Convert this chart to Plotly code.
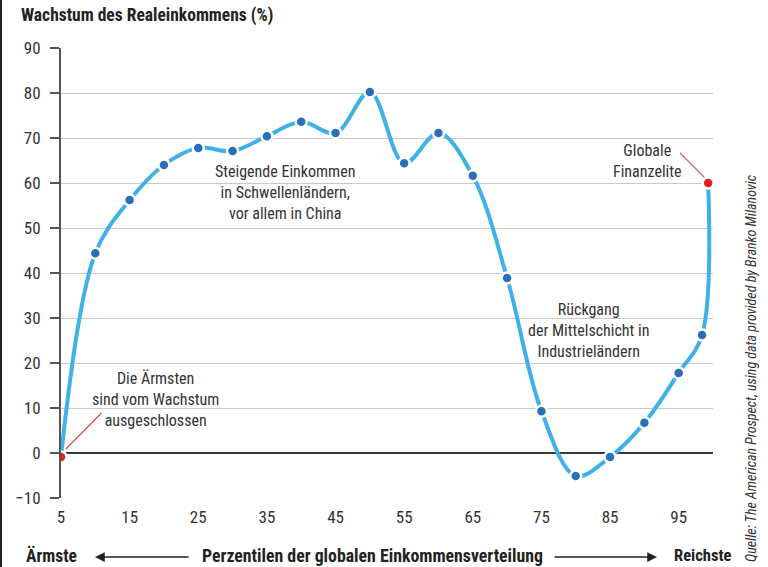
import plotly.graph_objects as go

percentiles = [5, 10, 15, 20, 25, 30, 35, 40, 45, 50, 55, 60, 65, 70, 75, 80, 85, 90, 95, 98.4, 99.3]
growth = [-0.9, 44.4, 56.2, 64.0, 67.8, 67.1, 70.4, 73.6, 71.1, 80.2, 64.4, 71.1, 61.6, 38.9, 9.3, -5.1, -0.9, 6.7, 17.8, 26.2, 60.0]
highlight = [True] + [False] * 19 + [True]
x_ticks = [5, 15, 25, 35, 45, 55, 65, 75, 85, 95]
y_ticks = [-10, 0, 10, 20, 30, 40, 50, 60, 70, 80, 90]

FONT = "Roboto Condensed, Roboto, Liberation Sans Narrow, sans-serif"
TXT = "#333333"
LINE_BLUE = "#3fb1e8"
DOT_BLUE = "#2a6fb8"
RED = "#e2231a"

marker_colors = [RED if h else DOT_BLUE for h in highlight]

fig = go.Figure()
fig.add_trace(go.Scatter(
    x=percentiles, y=growth, mode="lines+markers",
    line=dict(color=LINE_BLUE, width=4, shape="spline", smoothing=1.0),
    marker=dict(color=marker_colors, size=11, line=dict(color="white", width=2.5)),
    hoverinfo="x+y", showlegend=False,
))

W, H = 768, 567
ml, mr, mt, mb = 61, 55, 48, 69
pw, ph = W - ml - mr, H - mt - mb

def px(xp):
    return (xp - ml) / pw

def py(yp):
    return (H - mb - yp) / ph

annotations = [
    dict(text="<b>Wachstum des Realeinkommens (%)</b>", xref="paper", yref="paper",
         x=px(147), y=py(15), xanchor="center", yanchor="middle", showarrow=False,
         font=dict(size=17.5, color="#222", family=FONT)),
    dict(text="Steigende Einkommen<br>in Schwellenländern,<br>vor allem in China",
         x=37.6, y=57.8, xref="x", yref="y", showarrow=False, align="center",
         font=dict(size=16, color=TXT, family=FONT)),
    dict(text="Die Ärmsten<br>sind vom Wachstum<br>ausgeschlossen",
         x=18.7, y=12.0, xref="x", yref="y", showarrow=False, align="center",
         font=dict(size=16, color=TXT, family=FONT)),
    dict(text="Rückgang<br>der Mittelschicht in<br>Industrieländern",
         x=81.8, y=27.3, xref="x", yref="y", showarrow=False, align="center",
         font=dict(size=16, color=TXT, family=FONT)),
    dict(text="Globale<br>Finanzelite",
         x=90.4, y=64.8, xref="x", yref="y", showarrow=False, align="center",
         font=dict(size=16, color=TXT, family=FONT)),
    dict(text="<b>Ärmste</b>", xref="paper", yref="paper", x=px(51), y=py(555),
         xanchor="center", yanchor="middle", showarrow=False,
         font=dict(size=17.5, color="#222", family=FONT)),
    dict(text="<b>Perzentilen der globalen Einkommensverteilung</b>", xref="paper", yref="paper",
         x=px(372), y=py(555), xanchor="center", yanchor="middle", showarrow=False,
         font=dict(size=17.8, color="#222", family=FONT)),
    dict(text="<b>Reichste</b>", xref="paper", yref="paper", x=px(702), y=py(555),
         xanchor="center", yanchor="middle", showarrow=False,
         font=dict(size=16.5, color="#222", family=FONT)),
    dict(text="", xref="paper", yref="paper", x=px(95), y=py(557), ax=95, ay=0,
         showarrow=True, arrowhead=2, arrowsize=1.3, arrowwidth=1.5, arrowcolor="#222"),
    dict(text="", xref="paper", yref="paper", x=px(657), y=py(557), ax=-104, ay=0,
         showarrow=True, arrowhead=2, arrowsize=1.3, arrowwidth=1.5, arrowcolor="#222"),
    dict(text="<i>Quelle: The American Prospect, using data provided by Branko Milanovic</i>",
         xref="paper", yref="paper", x=px(751), y=py(369), textangle=-90,
         xanchor="center", yanchor="middle", showarrow=False,
         font=dict(size=14, color="#333", family=FONT)),
]

shapes = [
    dict(type="line", xref="x", yref="y", x0=5.7, y0=0.9, x1=10.9, y1=8.9,
         line=dict(color="#d9534f", width=1.3)),
    dict(type="line", xref="x", yref="y", x0=95.2, y0=66.7, x1=98.7, y1=61.3,
         line=dict(color="#d9534f", width=1.3)),
    dict(type="line", xref="paper", yref="paper", x0=px(1), x1=px(1), y0=py(0), y1=py(567),
         line=dict(color="#222", width=2)),
]

fig.update_layout(
    width=W, height=H,
    margin=dict(l=ml, r=mr, t=mt, b=mb),
    paper_bgcolor="white", plot_bgcolor="white",
    font=dict(family=FONT, color=TXT),
    annotations=annotations, shapes=shapes,
    xaxis=dict(range=[5, 100], tickvals=x_ticks, showgrid=False, zeroline=False,
               showline=False, ticks="", ticklabelstandoff=7,
               tickfont=dict(size=17, color=TXT, family=FONT)),
    yaxis=dict(range=[-10, 90], tickvals=y_ticks, showgrid=True, gridcolor="#c9c9c9", gridwidth=1,
               zeroline=True, zerolinecolor="#3a3a3a", zerolinewidth=1.5,
               showline=True, linecolor="#555", linewidth=2,
               ticks="outside", ticklen=9, tickcolor="#555", tickwidth=1.5,
               ticklabelstandoff=6,
               tickfont=dict(size=17, color=TXT, family=FONT)),
)

fig.write_html("out.html", config={"displayModeBar": False},
               post_script="document.body.style.margin='0';document.body.style.overflow='hidden';")
